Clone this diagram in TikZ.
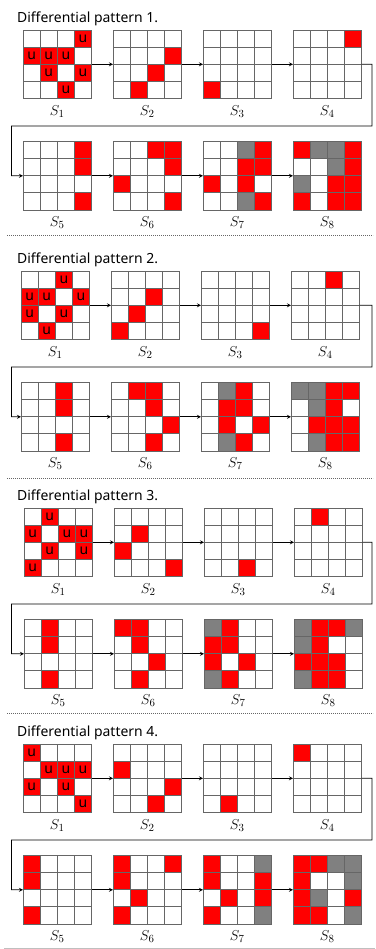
\documentclass[tikz,border=0pt]{standalone}
\usepackage{fontspec}
\setmainfont{Noto Sans}
\usetikzlibrary{arrows, positioning}
\tikzstyle{arrow}    = [line width=0.8bp, ->, >=stealth]
\tikzstyle{cellline} = [line width=1bp, draw=black!60]
\tikzset{celltext/.store in=\celltxt, celltext=}

\newcommand{\cs}{17.125}
\newcommand{\stategrid}[5]{%
    \node[gridbox, anchor=north west] (#1) at (#2,#3) {};
    \foreach \r/\c/\k in {#5} {
        \node[cell, celltext=, \k] (#1c\r\c) at ({#2+(\c-0.5)*\cs},{#3+(\r-0.5)*\cs}) {\celltxt};
    }
    \foreach \i in {0,...,4} {
        \draw[cellline] ({#2+\i*\cs},#3) -- ++(0,{4*\cs});
        \draw[cellline] (#2,{#3+\i*\cs}) -- ++({4*\cs},0);
    }
    \node[slabel] (#1l) at ([yshift=-13bp]#1.south) {$S_{#4}$};
}

\begin{document}
\begin{tikzpicture}[
        x=1bp, y=-1bp,
        gridbox/.style={minimum size=68.5bp, inner sep=0pt, outer sep=0pt},
        cell/.style={minimum size=17.125bp, inner sep=0pt, outer sep=0pt, font=\fontsize{14}{14}\selectfont},
        rc/.style={fill=red},
        gc/.style={fill=gray},
        uc/.style={fill=red, celltext=u},
        slabel/.style={font=\fontsize{15}{15}\selectfont, inner sep=0pt},
        title/.style={font=\fontsize{14}{14}\selectfont, inner sep=0pt, anchor=base west},
        sep/.style={line width=1bp, draw=black!60, dash pattern=on 1bp off 1bp}
    ]
    \useasboundingbox (0,0) rectangle (375,949);

    \node[title] (t1) at (17,22) {Differential pattern 1.};
    \stategrid{g1-1}{23}{30}{1}{1/4/uc,2/1/uc,2/2/uc,2/3/uc,3/2/uc,3/4/uc,4/3/uc}
    \stategrid{g1-2}{113}{30}{2}{2/4/rc,3/3/rc,4/2/rc}
    \stategrid{g1-3}{203}{30}{3}{4/1/rc}
    \stategrid{g1-4}{293}{30}{4}{1/4/rc}
    \stategrid{g1-5}{23}{141.5}{5}{1/4/rc,2/4/rc,4/4/rc}
    \stategrid{g1-6}{113}{141.5}{6}{1/3/rc,1/4/rc,2/4/rc,3/1/rc,4/4/rc}
    \stategrid{g1-7}{203}{141.5}{7}{1/3/gc,1/4/rc,2/3/rc,2/4/rc,3/1/rc,3/3/rc,4/3/gc,4/4/rc}
    \stategrid{g1-8}{293}{141.5}{8}{1/1/rc,1/2/gc,1/3/gc,1/4/rc,2/3/gc,2/4/rc,3/1/gc,3/3/rc,3/4/rc,4/1/rc,4/3/rc,4/4/rc}
    \coordinate (r1) at (372,126);
    \coordinate (l1) at (11.5,175.75);

    \node[title] (t2) at (17,263) {Differential pattern 2.};
    \stategrid{g2-1}{21}{271}{1}{1/3/uc,2/1/uc,2/2/uc,2/4/uc,3/1/uc,3/3/uc,4/2/uc}
    \stategrid{g2-2}{111}{271}{2}{2/3/rc,3/2/rc,4/1/rc}
    \stategrid{g2-3}{201}{271}{3}{4/4/rc}
    \stategrid{g2-4}{291}{271}{4}{1/3/rc}
    \stategrid{g2-5}{21}{382.5}{5}{1/3/rc,2/3/rc,4/3/rc}
    \stategrid{g2-6}{111}{382.5}{6}{1/2/rc,1/3/rc,2/3/rc,3/4/rc,4/3/rc}
    \stategrid{g2-7}{201}{382.5}{7}{1/2/gc,1/3/rc,2/2/rc,2/3/rc,3/2/rc,3/4/rc,4/2/gc,4/3/rc}
    \stategrid{g2-8}{291}{382.5}{8}{1/1/gc,1/2/gc,1/3/rc,1/4/rc,2/2/gc,2/3/rc,3/2/rc,3/3/rc,3/4/rc,4/2/gc,4/3/rc,4/4/rc}
    \coordinate (r2) at (372,367);
    \coordinate (l2) at (11.5,416.75);

    \node[title] (t3) at (17,500) {Differential pattern 3.};
    \stategrid{g3-1}{24}{508}{1}{1/2/uc,2/1/uc,2/3/uc,2/4/uc,3/2/uc,3/4/uc,4/1/uc}
    \stategrid{g3-2}{114}{508}{2}{2/2/rc,3/1/rc,4/4/rc}
    \stategrid{g3-3}{204}{508}{3}{4/3/rc}
    \stategrid{g3-4}{294}{508}{4}{1/2/rc}
    \stategrid{g3-5}{24}{619.5}{5}{1/2/rc,2/2/rc,4/2/rc}
    \stategrid{g3-6}{114}{619.5}{6}{1/1/rc,1/2/rc,2/2/rc,3/3/rc,4/2/rc}
    \stategrid{g3-7}{204}{619.5}{7}{1/1/gc,1/2/rc,2/1/rc,2/2/rc,3/1/rc,3/3/rc,4/1/gc,4/2/rc}
    \stategrid{g3-8}{294}{619.5}{8}{1/1/gc,1/2/rc,1/3/rc,1/4/gc,2/1/gc,2/2/rc,3/1/rc,3/2/rc,3/3/rc,4/1/gc,4/2/rc,4/3/rc}
    \coordinate (r3) at (372,604);
    \coordinate (l3) at (11.5,653.75);

    \node[title] (t4) at (17,736) {Differential pattern 4.};
    \stategrid{g4-1}{23}{744}{1}{1/1/uc,2/2/uc,2/3/uc,2/4/uc,3/1/uc,3/3/uc,4/4/uc}
    \stategrid{g4-2}{113}{744}{2}{2/1/rc,3/4/rc,4/3/rc}
    \stategrid{g4-3}{203}{744}{3}{4/2/rc}
    \stategrid{g4-4}{293}{744}{4}{1/1/rc}
    \stategrid{g4-5}{23}{855.5}{5}{1/1/rc,2/1/rc,4/1/rc}
    \stategrid{g4-6}{113}{855.5}{6}{1/1/rc,1/4/rc,2/1/rc,3/2/rc,4/1/rc}
    \stategrid{g4-7}{203}{855.5}{7}{1/1/rc,1/4/gc,2/1/rc,2/4/rc,3/2/rc,3/4/rc,4/1/rc,4/4/gc}
    \stategrid{g4-8}{293}{855.5}{8}{1/1/rc,1/2/rc,1/3/gc,1/4/gc,2/1/rc,2/4/gc,3/1/rc,3/2/gc,3/4/rc,4/1/rc,4/2/rc,4/4/gc}
    \coordinate (r4) at (372,840);
    \coordinate (l4) at (11.5,889.75);

    \foreach \b in {1,...,4} {
        \foreach \i/\j in {1/2,2/3,3/4,5/6,6/7,7/8} {
            \draw[arrow] (g\b-\i.east) -- (g\b-\j.west);
        }
        \draw[arrow] (g\b-4.east) -| (r\b) -| (l\b) -- (g\b-5.west);
    }

    \coordinate (d1a) at (7,235);   \coordinate (d1b) at (373,235);
    \coordinate (d2a) at (7,478);   \coordinate (d2b) at (373,478);
    \coordinate (d3a) at (7,713);   \coordinate (d3b) at (373,713);
    \foreach \d in {1,2,3} {
        \draw[sep] (d\d a) -- (d\d b);
    }
    \coordinate (bl) at (4,948.3);
    \coordinate (br) at (375,948.3);
    \draw[line width=0.8bp, black!25] (bl) -- (br);

\end{tikzpicture}
\end{document}
